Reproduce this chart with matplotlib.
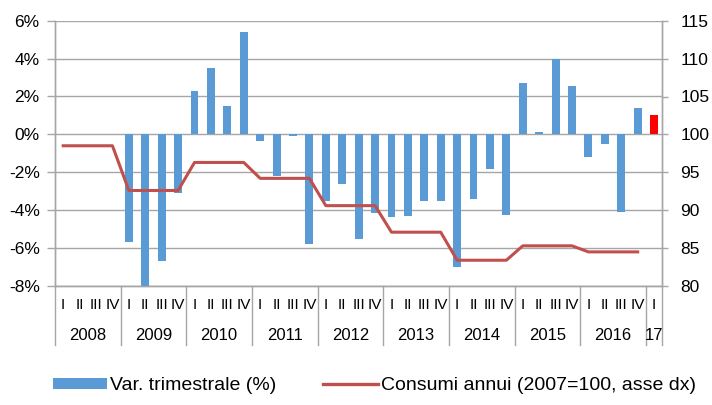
import numpy as np
import matplotlib
matplotlib.use("Agg")
import matplotlib.pyplot as plt
from matplotlib.transforms import blended_transform_factory
from matplotlib.patches import Patch
from matplotlib.lines import Line2D

plt.rcParams['font.family'] = ['Liberation Sans', 'DejaVu Sans']

years = ["2008", "2009", "2010", "2011", "2012", "2013", "2014", "2015", "2016", "17"]
quarters = ["I", "II", "III", "IV"]

# quarterly change (%), 2008Q1 .. 2017Q1
var_trim = [np.nan, np.nan, np.nan, np.nan,
            -5.7, -8.1, -6.7, -3.1,
            2.3, 3.5, 1.5, 5.4,
            -0.35, -2.2, -0.1, -5.8,
            -3.5, -2.6, -5.5, -4.15,
            -4.35, -4.3, -3.5, -3.5,
            -7.0, -3.4, -1.8, -4.25,
            2.7, 0.15, 4.0, 2.55,
            -1.2, -0.5, -4.1, 1.4,
            1.0]
# annual consumption index (2007=100), one value per year, repeated by quarter
consumi_annui = [98.5, 92.6, 96.3, 94.2, 90.6, 87.1, 83.4, 85.3, 84.5]

n = len(var_trim)
x = np.arange(n)
line_y = np.repeat(consumi_annui, 4)
line_x = np.arange(len(line_y))

blue = '#5B9BD5'
red_line = '#C0504D'
grid_c = '#A6A6A6'

fig = plt.figure(figsize=(7.12, 4.05), dpi=100)
ax = fig.add_axes([55/712, 1-286/405, (662.3-55)/712, (286-20.7)/405])
ax2 = ax.twinx()

colors = [blue] * (n - 1) + ['#FF0000']
ax.bar(x, var_trim, width=0.48, color=colors, zorder=3)

ax.set_xlim(-0.5, n - 0.5)
ax.set_ylim(-8, 6)
ax.set_yticks(np.arange(-8, 7, 2))
ax.set_yticklabels([f"{v}%" for v in range(-8, 7, 2)])
ax.yaxis.grid(True, color=grid_c, lw=1.0, zorder=0)
ax.set_axisbelow(True)
ax.set_xticks([])

ax2.plot(line_x, line_y, color=red_line, lw=2.2, zorder=4)
ax2.set_ylim(80, 115)
ax2.set_yticks(np.arange(80, 116, 5))

for a in (ax, ax2):
    for s in ['top']:
        a.spines[s].set_visible(False)
    for s in ['left', 'right', 'bottom']:
        a.spines[s].set_color(grid_c)
        a.spines[s].set_linewidth(1.0)
ax.tick_params(axis='y', length=6, width=1, color=grid_c, pad=5, labelsize=12.5)
ax2.tick_params(axis='y', length=4, width=1, color=grid_c, pad=9, labelsize=12.5)

# multi-level category axis
trans = blended_transform_factory(ax.transData, ax.transAxes)
for i in range(n):
    ax.text(i, -0.072, quarters[i % 4], transform=trans, ha='center', va='center',
            fontsize=11)
for k, yr in enumerate(years):
    start = 4 * k
    end = min(4 * k + 3, n - 1)
    ax.text((start + end) / 2, -0.188, yr, transform=trans, ha='center', va='center',
            fontsize=12)
bounds = list(np.arange(-0.5, n, 4)) + [n - 0.5]
for b in bounds:
    ax.plot([b, b], [0, -0.222], transform=trans, color=grid_c, lw=1.0, clip_on=False)

handles = [Patch(facecolor=blue, edgecolor='none'),
           Line2D([0], [0], color=red_line, lw=2.4)]
labels = ["Var. trimestrale (%)", "Consumi annui (2007=100, asse dx)"]
fig.legend(handles, labels, loc='center left', bbox_to_anchor=(53/712, 1-386/405),
           ncol=2, frameon=False, fontsize=14, handlelength=2.8, handleheight=0.55,
           handletextpad=0.15, columnspacing=2.4, borderpad=0, borderaxespad=0)

fig.savefig("out.png", dpi=100)
